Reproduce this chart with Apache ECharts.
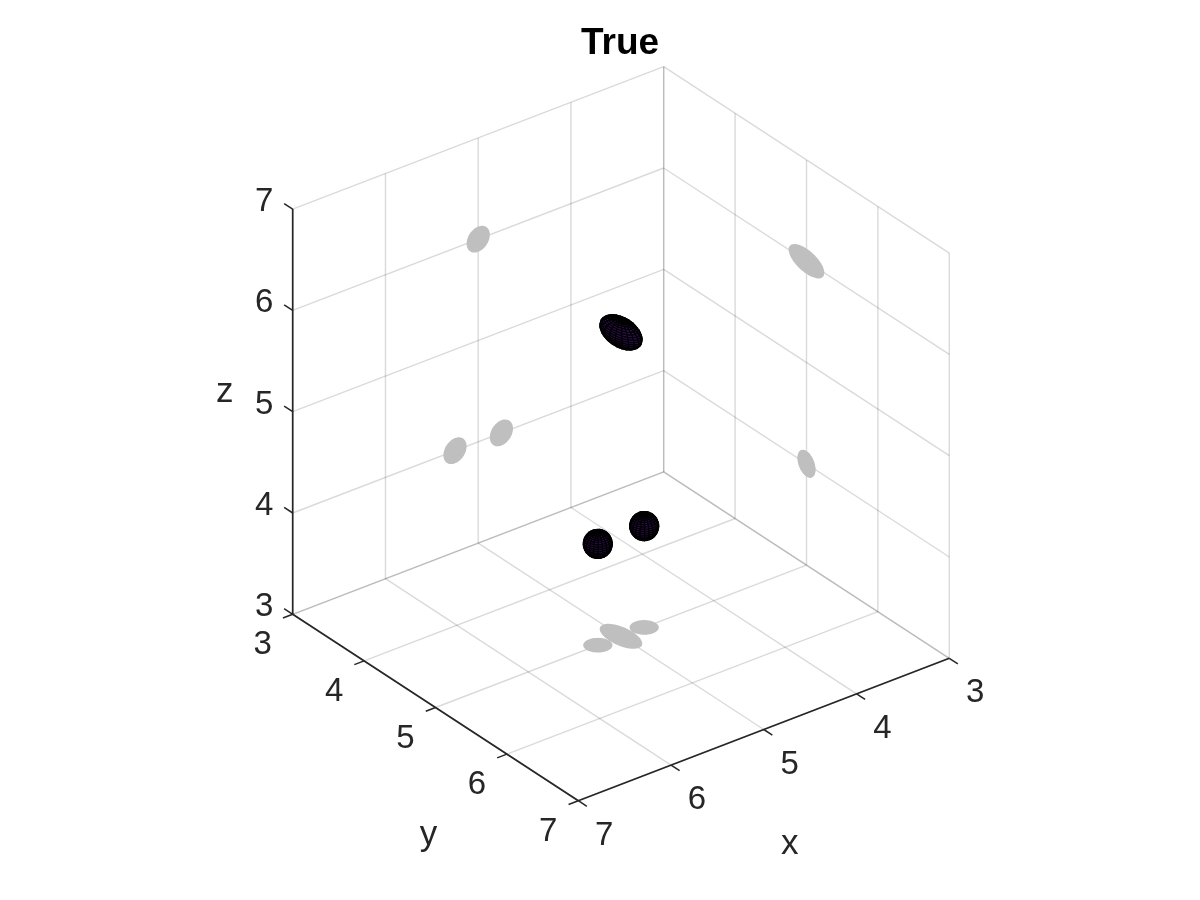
<!DOCTYPE html>
<html>
<head>
<meta charset="utf-8">
<title>True</title>
<script src="https://cdn.jsdelivr.net/npm/echarts@6/dist/echarts.min.js"></script>
<style>
    html, body { margin: 0; padding: 0; background: #fff; }
    #main { width: 1200px; height: 900px; }
</style>
</head>
<body>
<div id="main"></div>
<script>
    // axis ticks, the same on x, y and z
    var tickValues = [3, 4, 5, 6, 7];

    // blob centres and semi-axes
    var blobX = [5.25, 4.75, 5];
    var blobY = [5, 5, 5];
    var blobZ = [4, 4, 6];
    var blobRx = [0.125, 0.125, 0.125];
    var blobRy = [0.125, 0.125, 0.25];
    var blobRz = [0.125, 0.125, 0.125];

    var lo = tickValues[0];
    var hi = tickValues[tickValues.length - 1];

    // orthographic view: pixels per data unit along each axis, from the back corner
    var origin = [663.7, 471.9];
    var ux = [-92.75, 35.6];
    var uy = [71.4, 46.6];
    var uz = [0, -101.3];
    // direction towards the camera
    var viewDir = [
        -(uy[0] * uz[1] - uz[0] * uy[1]),
        -(uz[0] * ux[1] - ux[0] * uz[1]),
        -(ux[0] * uy[1] - uy[0] * ux[1])
    ];

    function project(x, y, z) {
        return [
            origin[0] + (x - lo) * ux[0] + (y - lo) * uy[0] + (z - lo) * uz[0],
            origin[1] + (x - lo) * ux[1] + (y - lo) * uy[1] + (z - lo) * uz[1]
        ];
    }

    // rows for the segment series: [x1, y1, z1, x2, y2, z2]
    var gridRows = [];
    var tickRows = [];
    tickValues.forEach(function (t) {
        gridRows.push([t, lo, lo, t, hi, lo]);   // floor
        gridRows.push([lo, t, lo, hi, t, lo]);
        gridRows.push([lo, t, lo, lo, t, hi]);   // wall x = 3
        gridRows.push([lo, lo, t, lo, hi, t]);
        gridRows.push([t, lo, lo, t, lo, hi]);   // wall y = 3
        gridRows.push([lo, lo, t, hi, lo, t]);
        tickRows.push([t, hi, lo, t, hi + 0.12, lo]);
        tickRows.push([hi, t, lo, hi + 0.105, t, lo]);
        tickRows.push([hi, lo, t, hi, lo - 0.12, t]);
    });
    var axisRows = [
        [lo, hi, lo, hi, hi, lo],
        [hi, lo, lo, hi, hi, lo],
        [hi, lo, lo, hi, lo, hi]
    ];

    var blobRows = blobX.map(function (x, i) {
        return [x, blobY[i], blobZ[i], blobRx[i], blobRy[i], blobRz[i]];
    });

    // one shadow per blob on each of the three back planes (0 x wall, 1 y wall, 2 floor)
    var shadowRows = [];
    blobRows.forEach(function (b) {
        [0, 1, 2].forEach(function (plane) {
            shadowRows.push(b.concat([plane]));
        });
    });

    // rows for tick labels: [x, y, z, dx, dy]
    var labelRows = [];
    tickValues.forEach(function (t) {
        labelRows.push([t, hi, lo, 26, 35]);
        labelRows.push([hi, t, lo, -30, 31]);
        labelRows.push([hi, lo, t, -28.5, -7]);
    });

    function toPixel(api, x, y, z) {
        var p = project(x, y, z);
        return api.coord([p[0], p[1]]);
    }

    function segmentRenderer(color, width) {
        return function (params, api) {
            var a = toPixel(api, api.value(0), api.value(1), api.value(2));
            var b = toPixel(api, api.value(3), api.value(4), api.value(5));
            return {
                type: 'line',
                shape: { x1: a[0], y1: a[1], x2: b[0], y2: b[1] },
                style: { stroke: color, lineWidth: width, fill: null }
            };
        };
    }

    function renderShadow(params, api) {
        var c = [api.value(0), api.value(1), api.value(2)];
        var r = [api.value(3), api.value(4), api.value(5)];
        var plane = api.value(6);
        var free = [0, 1, 2].filter(function (k) { return k !== plane; });
        var pts = [];
        for (var i = 0; i < 64; i++) {
            var t = i / 64 * Math.PI * 2;
            var q = c.slice();
            q[plane] = lo;
            q[free[0]] += r[free[0]] * Math.cos(t);
            q[free[1]] += r[free[1]] * Math.sin(t);
            pts.push(toPixel(api, q[0], q[1], q[2]));
        }
        return {
            type: 'polygon',
            shape: { points: pts },
            style: { fill: '#bfbfbf', stroke: null }
        };
    }

    // ellipsoid surface as a mesh, only the faces turned to the camera
    var meshSteps = 20;
    function renderBlob(params, api) {
        var cx = api.value(0), cy = api.value(1), cz = api.value(2);
        var rx = api.value(3), ry = api.value(4), rz = api.value(5);
        function surf(i, j) {
            var lat = -Math.PI / 2 + Math.PI * j / meshSteps;
            var lon = Math.PI * 2 * i / meshSteps;
            return [
                Math.cos(lat) * Math.cos(lon),
                Math.cos(lat) * Math.sin(lon),
                Math.sin(lat)
            ];
        }
        var children = [];
        for (var i = 0; i < meshSteps; i++) {
            for (var j = 0; j < meshSteps; j++) {
                var quad = [surf(i, j), surf(i + 1, j), surf(i + 1, j + 1), surf(i, j + 1)];
                var mx = 0, my = 0, mz = 0;
                quad.forEach(function (s) { mx += s[0]; my += s[1]; mz += s[2]; });
                // normal of the ellipsoid at the face centre
                if (mx / rx * viewDir[0] + my / ry * viewDir[1] + mz / rz * viewDir[2] <= 0) {
                    continue;
                }
                children.push({
                    type: 'polygon',
                    shape: {
                        points: quad.map(function (s) {
                            return toPixel(api, cx + rx * s[0], cy + ry * s[1], cz + rz * s[2]);
                        })
                    },
                    style: { fill: '#2e0f50', stroke: '#000', lineWidth: 1.15, lineJoin: 'round' }
                });
            }
        }
        return { type: 'group', children: children };
    }

    function renderLabel(params, api) {
        var p = toPixel(api, api.value(0), api.value(1), api.value(2));
        var row = labelRows[params.dataIndex];
        var axisIndex = params.dataIndex % 3;
        return {
            type: 'text',
            style: {
                text: String(row[axisIndex]),
                x: p[0] + api.value(3),
                y: p[1] + api.value(4),
                fill: '#262626',
                font: '33px "Liberation Sans", Arial, sans-serif',
                align: 'center',
                verticalAlign: 'middle'
            }
        };
    }

    // axis names: [name, x, y, z, dx, dy] placed from the middle of each axis
    var mid = (lo + hi) / 2;
    var axisNames = ['x', 'y', 'z'];
    var nameRows = [
        [mid, hi, lo, 26, 115],
        [hi, mid, lo, -7, 128],
        [hi, lo, mid, -68, -19]
    ];

    function renderName(params, api) {
        var p = toPixel(api, api.value(0), api.value(1), api.value(2));
        return {
            type: 'text',
            style: {
                text: axisNames[params.dataIndex],
                x: p[0] + api.value(3),
                y: p[1] + api.value(4),
                fill: '#262626',
                font: '35px "Liberation Sans", Arial, sans-serif',
                align: 'center',
                verticalAlign: 'middle'
            }
        };
    }

    function customSeries(rows, renderer) {
        return {
            type: 'custom',
            coordinateSystem: 'cartesian2d',
            data: rows,
            renderItem: renderer,
            clip: false,
            silent: true,
            animation: false
        };
    }

    var chart = echarts.init(document.getElementById('main'), null, { renderer: 'canvas' });
    chart.setOption({
        backgroundColor: '#fff',
        animation: false,
        title: {
            text: 'True',
            left: 576,
            top: 20,
            textStyle: {
                color: '#000',
                fontFamily: '"Liberation Sans", Arial, sans-serif',
                fontWeight: 'bold',
                fontSize: 37
            }
        },
        tooltip: { show: false },
        // screen plane the 3D view is projected on, axes themselves hidden
        grid: { left: 0, right: 0, top: 0, bottom: 0 },
        xAxis: { type: 'value', min: 0, max: 1200, show: false },
        yAxis: { type: 'value', min: 0, max: 900, inverse: true, show: false },
        series: [
            customSeries(gridRows, segmentRenderer('rgba(38,38,38,0.17)', 1.4)),
            customSeries(shadowRows, renderShadow),
            customSeries(axisRows, segmentRenderer('#262626', 1.7)),
            customSeries(tickRows, segmentRenderer('#262626', 1.5)),
            customSeries(blobRows, renderBlob),
            customSeries(labelRows, renderLabel),
            customSeries(nameRows, renderName)
        ]
    });
    window.addEventListener('resize', chart.resize);
</script>
</body>
</html>
